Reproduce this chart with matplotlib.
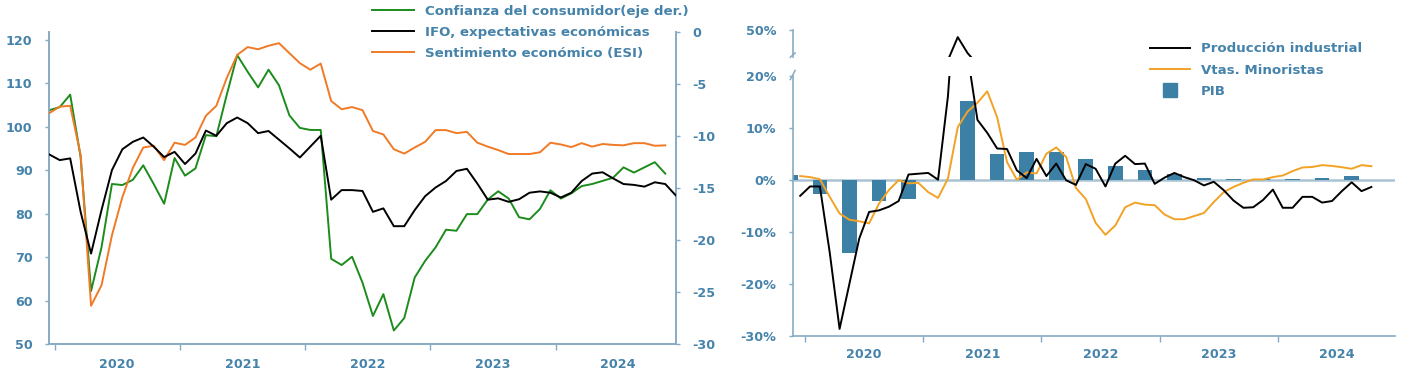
import numpy as np
import pandas as pd
import matplotlib
matplotlib.use("Agg")
import matplotlib.pyplot as plt
from matplotlib.lines import Line2D

# ---------------- data ----------------
# monthly categories, Dec 2019 .. Dec 2024
months = list(pd.date_range("2019-12-01", "2024-12-01", freq="MS").strftime("%Y-%m"))
years = ["2020", "2021", "2022", "2023", "2024"]

# left chart
ifo = [93.6, 92.3, 92.7, 80.4, 70.8, 80.8, 90.0, 94.8, 96.5, 97.5, 95.4, 93.0, 94.2,
       91.4, 93.8, 99.1, 97.9, 100.8, 102.1, 100.8, 98.5, 99.0, 97.0, 95.0, 92.9,
       95.4, 97.9, 83.2, 85.4, 85.4, 85.2, 80.4, 81.2, 77.1, 77.1, 80.8, 84.0, 86.0,
       87.5, 89.8, 90.3, 86.9, 83.2, 83.5, 82.7, 83.3, 84.8, 85.1, 84.8, 83.7, 84.8,
       87.5, 89.2, 89.5, 88.1, 86.8, 86.6, 86.2, 87.2, 86.8, 84.2]
esi = [103.1, 104.6, 104.8, 93.5, 58.8, 63.5, 75.0, 83.8, 90.5, 95.2, 95.6, 92.3, 96.3,
       95.8, 97.5, 102.5, 104.8, 111.2, 116.5, 118.3, 117.8, 118.6, 119.2, 116.9, 114.6,
       113.1, 114.5, 105.9, 104.0, 104.5, 103.8, 99.0, 98.2, 94.8, 93.8, 95.2, 96.5,
       99.2, 99.2, 98.5, 98.8, 96.3, 95.4, 94.6, 93.7, 93.7, 93.7, 94.1, 96.3, 95.9,
       95.3, 96.2, 95.4, 96.0, 95.8, 95.7, 96.2, 96.2, 95.6, 95.7]
consumer_conf = [-7.5, -7.2, -6.0, -12.0, -24.9, -20.7, -14.6, -14.7, -14.2, -12.8,
                 -14.6, -16.5, -12.1, -13.8, -13.1, -9.9, -10.0, -6.0, -2.2, -3.8, -5.3,
                 -3.6, -5.1, -8.0, -9.2, -9.4, -9.4, -21.8, -22.4, -21.6, -24.1, -27.3,
                 -25.2, -28.7, -27.5, -23.6, -22.0, -20.7, -19.0, -19.1, -17.5, -17.5,
                 -16.1, -15.3, -16.0, -17.8, -18.0, -17.0, -15.2, -16.0, -15.5, -14.8,
                 -14.6, -14.3, -14.0, -13.0, -13.5, -13.0, -12.5, -13.6]

# right chart (yoy %)
ind_prod = [-3.1, -1.3, -1.3, -14.0, -28.7, -20.0, -11.3, -6.2, -5.9, -5.2, -4.1, 1.0,
            1.15, 1.3, 0.0, 16.0, 42.0, 24.0, 11.5, 9.0, 6.0, 5.9, 1.8, 0.3, 4.0, 0.7,
            3.1, -0.1, -1.0, 3.0, 2.1, -1.3, 3.1, 4.6, 3.0, 3.1, -0.8, 0.4, 1.3, 0.5,
            -0.1, -1.1, -0.4, -2.0, -4.0, -5.4, -5.3, -3.9, -1.9, -5.4, -5.4, -3.3,
            -3.3, -4.4, -4.1, -2.2, -0.5, -2.2, -1.4]
retail = [0.7, 0.5, 0.1, -3.3, -6.5, -7.7, -8.0, -8.4, -4.6, -2.0, -0.1, -0.7, -0.6,
          -2.4, -3.5, 0.2, 10.1, 13.1, 14.8, 17.0, 12.0, 3.4, 0.0, 1.4, 1.2, 5.0, 6.2,
          4.4, -1.6, -3.7, -8.3, -10.6, -8.8, -5.3, -4.4, -4.8, -4.9, -6.7, -7.6, -7.6,
          -7.0, -6.4, -4.3, -2.4, -1.4, -0.6, 0.05, 0.05, 0.5, 0.8, 1.65, 2.35, 2.45,
          2.8, 2.65, 2.4, 2.1, 2.8, 2.6]
gdp_quarters = ["4T19", "1T20", "2T20", "3T20", "4T20", "1T21", "2T21", "3T21", "4T21",
                "1T22", "2T22", "3T22", "4T22", "1T23", "2T23", "3T23", "4T23", "1T24",
                "2T24", "3T24"]
gdp = [1.0, -2.7, -14.0, -4.1, -3.65, 0.0, 15.1, 4.9, 5.3, 5.3, 3.9, 2.55, 1.8, 1.15,
       0.3, 0.05, 0.1, 0.2, 0.35, 0.8]

# ---------------- style ----------------
W, H = 1413, 376
TXT = "#4683ab"
SPINE = "#86abc4"
FS = 9.2
plt.rcParams["font.family"] = ["DejaVu Sans"]
plt.rcParams["font.weight"] = "bold"

fig = plt.figure(figsize=(W / 100, H / 100), dpi=100)


def ax_px(x0, x1, ytop, ybot):
    return fig.add_axes([x0 / W, (H - ybot) / H, (x1 - x0) / W, (ybot - ytop) / H])


def style_x(ax, n_years, pad):
    ax.set_xticks([0.5 + 12 * k for k in range(n_years)])
    ax.set_xticklabels([])
    ax.set_xticks([6.5 + 12 * k for k in range(n_years)], minor=True)
    ax.set_xticklabels(years, minor=True)
    ax.tick_params(axis="x", which="major", direction="out", length=4, width=1,
                   color=SPINE)
    ax.tick_params(axis="x", which="minor", length=0, pad=pad, labelsize=FS,
                   labelcolor=TXT)


# ---------------- left chart ----------------
xl = np.arange(len(months))
axL = ax_px(49.3, 675.7, 32.3, 344)
axR = axL.twinx()
axL.plot(xl[:len(esi)], esi, color="#f07a25", lw=1.4, zorder=3)
axL.plot(xl[:len(ifo)], ifo, color="black", lw=1.4, zorder=4)
axR.plot(xl[:len(consumer_conf)], consumer_conf, color="#1c8c1c", lw=1.4)
axL.set_xlim(0, 60)
axL.set_ylim(50, 121.7)
axR.set_ylim(-30, 0)
axL.set_yticks(np.arange(50, 121, 10))
axR.set_yticks(np.arange(-30, 1, 5))
axR.set_yticklabels([f"{v:d}" for v in range(-30, 1, 5)])
for a in (axL, axR):
    a.spines["top"].set_visible(False)
    for s in ("left", "right", "bottom"):
        a.spines[s].set_color(SPINE)
        a.spines[s].set_linewidth(1.2)
    a.tick_params(axis="y", direction="out", length=3, width=1, color=SPINE,
                  labelsize=FS, labelcolor=TXT, pad=9)
style_x(axL, 5, 10)
axL.set_zorder(axR.get_zorder() + 1)
axL.patch.set_visible(False)

handlesL = [Line2D([], [], color="#1c8c1c", lw=1.4),
            Line2D([], [], color="black", lw=1.4),
            Line2D([], [], color="#f07a25", lw=1.4)]
labelsL = ["Confianza del consumidor(eje der.)", "IFO, expectativas económicas",
           "Sentimiento económico (ESI)"]
fig.legend(handlesL, labelsL, loc="upper left",
           bbox_to_anchor=(371.7 / W, 1 - 4.5 / H), frameon=False, borderpad=0,
           borderaxespad=0, handlelength=3.2, handletextpad=0.8, labelspacing=0.62,
           prop={"size": FS + 0.4, "weight": "bold"}, labelcolor=TXT)

# ---------------- right chart ----------------
xr = np.arange(len(ind_prod))
bar_x = -1 + 3 * np.arange(len(gdp))
BAR = "#3d80a6"
ORG = "#f2a225"

axB = ax_px(792.7, 1395, 75.7, 335.7)
axT = ax_px(792.7, 1395, 30, 56.7)
axB.axhline(0, color="#a9c3d3", lw=1.8, zorder=1)
axB.bar(bar_x, gdp, width=1.48, color=BAR, zorder=2)
axB.plot(xr, retail, color=ORG, lw=1.4, zorder=3)
axB.plot(xr, ind_prod, color="black", lw=1.4, zorder=4)
axT.plot(xr, ind_prod, color="black", lw=1.4)
for a in (axB, axT):
    a.set_xlim(-0.76, 60.4)
    for s in ("top", "right"):
        a.spines[s].set_visible(False)
    a.spines["left"].set_color(SPINE)
    a.spines["left"].set_linewidth(1.2)
    a.tick_params(axis="y", direction="out", length=3, width=1, color=SPINE,
                  labelsize=FS, labelcolor=TXT, pad=9)
axB.set_ylim(-30, 20)
axB.set_yticks(np.arange(-30, 21, 10))
axB.set_yticklabels([f"{v:d}%" for v in range(-30, 21, 10)])
axB.spines["bottom"].set_color(SPINE)
axB.spines["bottom"].set_linewidth(1.2)
style_x(axB, 5, 9)
axT.set_ylim(20, 50)
axT.set_yticks([50])
axT.set_yticklabels(["50%"])
axT.spines["bottom"].set_visible(False)
axT.set_xticks([])

# break marks on the left spine
kw = dict(color=SPINE, lw=1.1, clip_on=False)
axB.plot([-0.004, 0.004], [0.985, 1.02], transform=axB.transAxes, **kw)
axT.plot([-0.004, 0.004], [-0.02, 0.14], transform=axT.transAxes, **kw)

handlesR = [Line2D([], [], color="black", lw=1.4),
            Line2D([], [], color=ORG, lw=1.4),
            Line2D([], [], color=BAR, marker="s", markersize=9.5, ls="none")]
labelsR = ["Producción industrial", "Vtas. Minoristas", "PIB"]
fig.legend(handlesR, labelsR, loc="upper left",
           bbox_to_anchor=(1150 / W, 1 - 42.5 / H), frameon=False, borderpad=0,
           borderaxespad=0, handlelength=3.0, handletextpad=0.8, labelspacing=0.62,
           prop={"size": FS + 0.4, "weight": "bold"}, labelcolor=TXT)

fig.savefig("out.png", dpi=100)
